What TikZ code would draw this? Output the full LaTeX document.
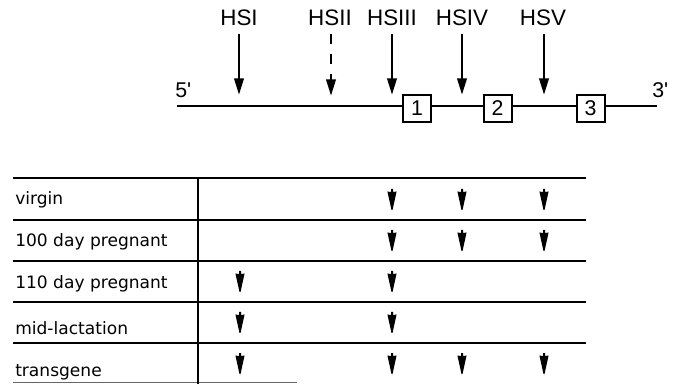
\documentclass[tikz,border=0pt]{standalone}
\usepackage{fontspec}
\setmainfont{Liberation Sans}
\newfontfamily\tabfont{DejaVu Sans}
\usetikzlibrary{arrows.meta}
\tikzset{
  hslabel/.style={font=\fontsize{16.8pt}{19pt}\selectfont, anchor=base, inner sep=0pt},
  endlabel/.style={font=\fontsize{16pt}{19pt}\selectfont, anchor=base west, inner sep=0pt},
  exonbox/.style={draw, line width=1.5pt, fill=white, minimum width=21pt, minimum height=20pt, inner sep=0pt, font=\fontsize{16pt}{19pt}\selectfont},
  hsarrow/.style={line width=2pt, -{Triangle[length=12.5pt,width=7pt]}, shorten <=2pt},
  dnaline/.style={line width=1.5pt},
  rowline/.style={line width=1.4pt},
  rowlabel/.style={font=\tabfont\fontsize{12.8pt}{15pt}\selectfont, anchor=base west, inner sep=0pt},
  tarrow/.pic={\fill (-1,0) -- (1,0) -- (1,3) -- (4.6,2.5) -- (0.5,21) -- (-0.5,21) -- (-4.6,2.5) -- (-1,3) -- cycle;}
}
\begin{document}
\begin{tikzpicture}[x=0.75pt,y=-0.75pt]
\useasboundingbox (0,0) rectangle (674,384);
% gene line
\coordinate (l5) at (177,106);
\coordinate (l3) at (657,106);
\draw[dnaline] (l5) -- (l3);
\node[exonbox] (b1) at (417,108.5) {1};
\node[exonbox] (b2) at (497.5,108.5) {2};
\node[exonbox] (b3) at (590.5,108.5) {3};
\node[endlabel] (p5) at (175,98) {5\textquotesingle};
\node[endlabel] (p3) at (652,98) {3\textquotesingle};
% hypersensitive sites
\node[hslabel] (h1) at (239,26) {HSI};
\node[hslabel] (h2) at (330,26) {HSII};
\node[hslabel] (h3) at (392,26) {HSIII};
\node[hslabel] (h4) at (462,26) {HSIV};
\node[hslabel] (h5) at (543,26) {HSV};
\coordinate (t1) at (239,95);
\coordinate (t2) at (331,96);
\coordinate (t3) at (392,95);
\coordinate (t4) at (462,95);
\coordinate (t5) at (544,95);
\coordinate (s1) at (239,31);
\coordinate (s2) at (331,34);
\coordinate (s3) at (392,31);
\coordinate (s4) at (462,31);
\coordinate (s5) at (544,31);
\draw[hsarrow] (s1) -- (t1);
\draw[hsarrow, dash pattern=on 7.5pt off 7.5pt, shorten <=0pt] (s2) -- (t2);
\draw[hsarrow] (s3) -- (t3);
\draw[hsarrow] (s4) -- (t4);
\draw[hsarrow] (s5) -- (t5);
% table
\draw[rowline] (13,178) -- (586,178);
\draw[rowline] (13,220) -- (586,220);
\draw[rowline] (13,261) -- (586,261);
\draw[rowline] (13,302) -- (586,302);
\draw[line width=2.2pt] (13,343) -- (586,343);
\draw[line width=0.8pt, black!60] (13,382.5) -- (297,382.5);
\draw[line width=0.8pt] (198,178) -- (198,384);
\node[rowlabel] (r1) at (15,205) {virgin};
\node[rowlabel] (r2) at (15,246.5) {100 day pregnant};
\node[rowlabel] (r3) at (15,288.5) {110 day pregnant};
\node[rowlabel] (r4) at (15,334.5) {mid-lactation};
\node[rowlabel] (r5) at (15,376.5) {transgene};
% table arrows
\foreach \x in {392,462,544} {\pic at (\x,189) {tarrow}; \pic at (\x,230) {tarrow};}
\foreach \x in {240,392} {\pic at (\x,271) {tarrow}; \pic at (\x,312) {tarrow};}
\foreach \x in {240,392,462,544} {\pic at (\x,353) {tarrow};}
\end{tikzpicture}
\end{document}
